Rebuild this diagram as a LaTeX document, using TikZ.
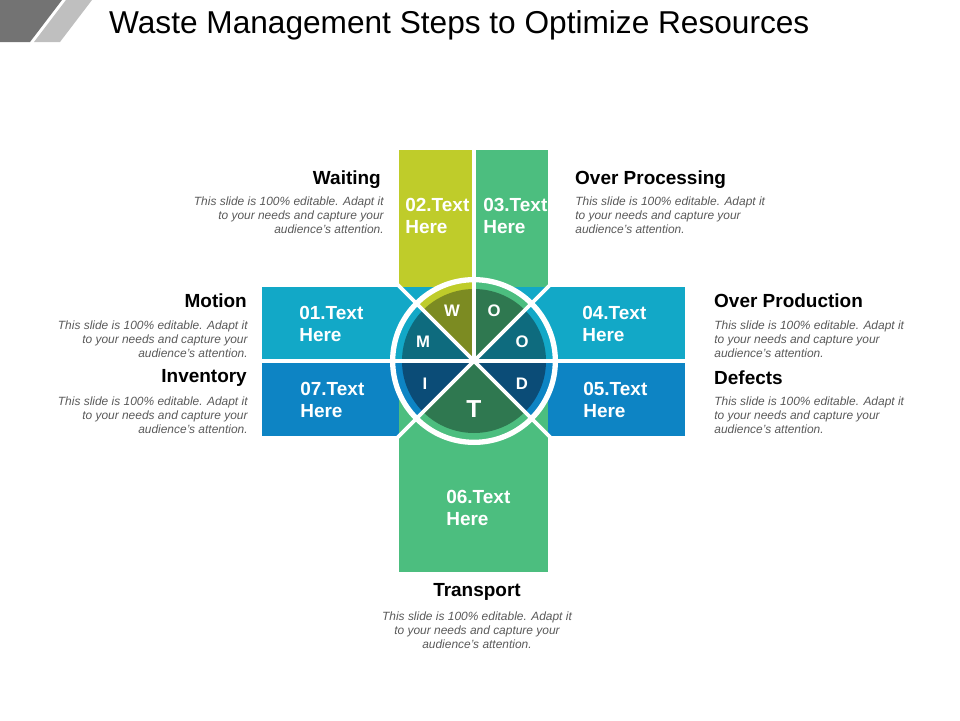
\documentclass[tikz,border=0pt]{standalone}
\usepackage{fontspec}
\setmainfont{Liberation Sans}
\begin{document}
\begin{tikzpicture}[x=0.02cm,y=-0.02cm,
  head/.style={font=\bfseries\fontsize{10.8}{12}\selectfont},
  body/.style={font=\itshape\fontsize{6.8}{8}\selectfont, text=black!65, inner sep=0pt},
  plab/.style={font=\bfseries\fontsize{10.8}{13}\selectfont, text=white, align=left, anchor=west, inner sep=0pt},
  letter/.style={font=\bfseries\fontsize{9.5}{10}\selectfont, text=white},
  gap/.style={white, line width=2.2pt}]
  \useasboundingbox (0,0) rectangle (960,720);
  \definecolor{olive}{HTML}{BFCC2A}\definecolor{oliveD}{HTML}{7C8B22}
  \definecolor{grn}{HTML}{4CBE7F}\definecolor{grnD}{HTML}{2F7850}
  \definecolor{teal}{HTML}{12A8C7}\definecolor{tealD}{HTML}{0E6B7E}
  \definecolor{blu}{HTML}{0D84C4}\definecolor{bluD}{HTML}{0B4C77}

  % Corner marks and title
  \fill[black!55] (0,0) -- (62,0) -- (30,42) -- (0,42) -- cycle;
  \fill[black!25] (66,0) -- (92,0) -- (60,42) -- (34,42) -- cycle;
  \node[font=\fontsize{18}{20}\selectfont, anchor=west] (title) at (103,25) {Waste Management Steps to Optimize Resources};

  % Panels
  \fill[olive] (399,150) rectangle (474,361);
  \fill[grn] (474,150) rectangle (548,361);
  \fill[teal] (262,287) rectangle (474,361);
  \fill[blu] (262,361) rectangle (474,436);
  \fill[teal] (474,287) rectangle (685,361);
  \fill[blu] (474,361) rectangle (685,436);
  \fill[grn] (399,361) rectangle (548,572);

  % Circle
  \coordinate (c) at (474,361);
  \begin{scope}[shift={(c)}, yscale=-1]
    \fill[white] (0,0) circle (84);
    \fill[olive] (0,0) -- (90:80) arc (90:135:80) -- cycle;
    \fill[grn] (0,0) -- (45:80) arc (45:90:80) -- cycle;
    \fill[teal] (0,0) -- (0:80) arc (0:45:80) -- cycle;
    \fill[teal] (0,0) -- (135:80) arc (135:180:80) -- cycle;
    \fill[blu] (0,0) -- (180:80) arc (180:225:80) -- cycle;
    \fill[blu] (0,0) -- (-45:80) arc (-45:0:80) -- cycle;
    \fill[grn] (0,0) -- (225:80) arc (225:315:80) -- cycle;
    \fill[oliveD] (0,0) -- (90:72) arc (90:135:72) -- cycle;
    \fill[grnD] (0,0) -- (45:72) arc (45:90:72) -- cycle;
    \fill[tealD] (0,0) -- (0:72) arc (0:45:72) -- cycle;
    \fill[tealD] (0,0) -- (135:72) arc (135:180:72) -- cycle;
    \fill[bluD] (0,0) -- (180:72) arc (180:225:72) -- cycle;
    \fill[bluD] (0,0) -- (-45:72) arc (-45:0:72) -- cycle;
    \fill[grnD] (0,0) -- (225:72) arc (225:315:72) -- cycle;
    \draw[white, line width=1.5pt] (0,0) circle (80);
    % Dividers
    \foreach \a in {45,135,225,315} \draw[gap] (0,0) -- (\a:125);
  \end{scope}
  \draw[gap] (262,361) -- (685,361);
  \draw[gap] (474,150) -- (c);

  % Letters
  \node[letter] (w) at (452,311) {W};
  \node[letter] (o1) at (494,311) {O};
  \node[letter] (o2) at (522,342) {O};
  \node[letter] (d) at (522,384) {D};
  \node[letter, font=\bfseries\fontsize{14}{15}\selectfont] (t) at (474,409) {T};
  \node[letter] (i) at (425,384) {I};
  \node[letter] (m) at (423,342) {M};

  % Panel labels
  \node[plab] (p2) at (405,216) {02.Text\\Here};
  \node[plab] (p3) at (483,216) {03.Text\\Here};
  \node[plab] (p1) at (299,324) {01.Text\\Here};
  \node[plab] (p4) at (582,324) {04.Text\\Here};
  \node[plab] (p7) at (300,400) {07.Text\\Here};
  \node[plab] (p5) at (583,400) {05.Text\\Here};
  \node[plab] (p6) at (446,508) {06.Text\\Here};

  % Descriptions
  \node[head, anchor=east] (hw) at (387,180) {Waiting};
  \node[body, anchor=north east, align=right] (bw) at (384,196) {This slide is 100\% editable. Adapt it\\to your needs and capture your\\audience's attention.};
  \node[head, anchor=west] (hop) at (569,180) {Over Processing};
  \node[body, anchor=north west, align=left] (bop) at (575,196) {This slide is 100\% editable. Adapt it\\to your needs and capture your\\audience's attention.};
  \node[head, anchor=east] (hm) at (253,301) {Motion};
  \node[body, anchor=north east, align=right] (bm) at (248,320) {This slide is 100\% editable. Adapt it\\to your needs and capture your\\audience's attention.};
  \node[head, anchor=west] (hpr) at (708,301) {Over Production};
  \node[body, anchor=north west, align=left] (bpr) at (714,320) {This slide is 100\% editable. Adapt it\\to your needs and capture your\\audience's attention.};
  \node[head, anchor=east] (hi) at (253,378) {Inventory};
  \node[body, anchor=north east, align=right] (bi) at (248,396) {This slide is 100\% editable. Adapt it\\to your needs and capture your\\audience's attention.};
  \node[head, anchor=west] (hd) at (708,378) {Defects};
  \node[body, anchor=north west, align=left] (bd) at (714,396) {This slide is 100\% editable. Adapt it\\to your needs and capture your\\audience's attention.};
  \node[head] (ht) at (477,592) {Transport};
  \node[body, anchor=north, align=center] (bt) at (477,611) {This slide is 100\% editable. Adapt it\\to your needs and capture your\\audience's attention.};
\end{tikzpicture}
\end{document}
